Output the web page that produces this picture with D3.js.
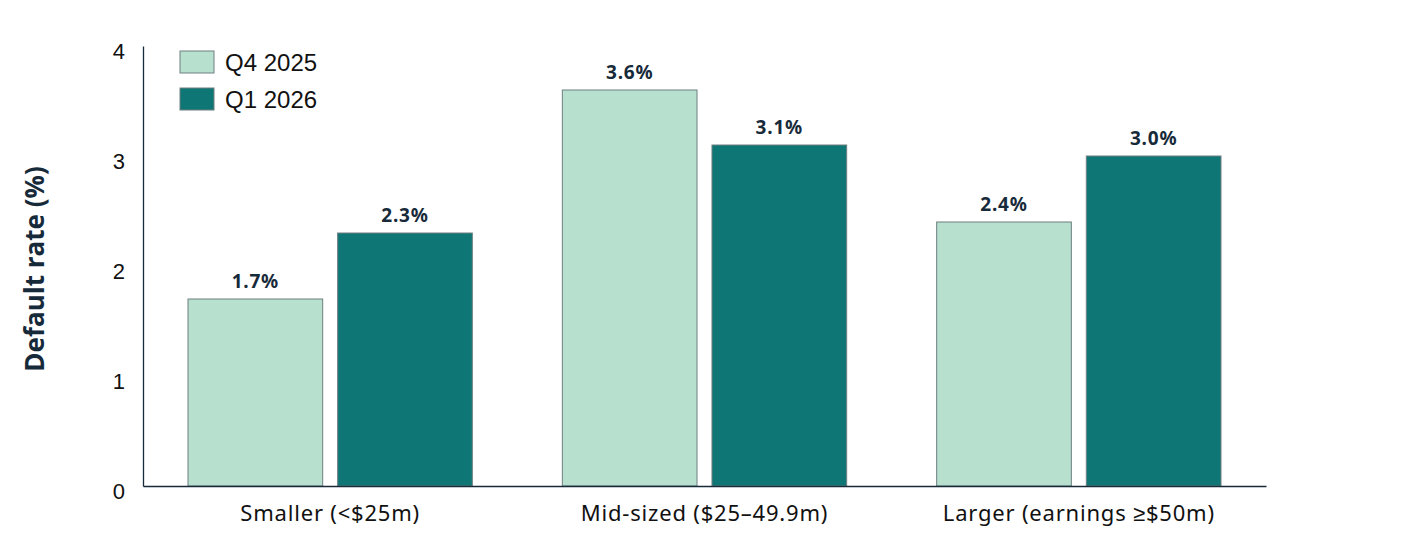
<!DOCTYPE html>
<html>
<head>
<meta charset="utf-8">
<script src="https://cdn.jsdelivr.net/npm/d3@7"></script>
<style>
  body { margin: 0; background: #fff; }
</style>
</head>
<body>
<svg id="chart" width="1420" height="536"></svg>
<script>
const categories = ["Smaller (<$25m)", "Mid-sized ($25\u201349.9m)", "Larger (earnings \u2265$50m)"];
const seriesNames = ["Q4 2025", "Q1 2026"];
const q4_2025 = [1.7, 3.6, 2.4];
const q1_2026 = [2.3, 3.1, 3.0];
const yTicks = [0, 1, 2, 3, 4];

const colors = { "Q4 2025": "#b7e0cf", "Q1 2026": "#0e7775" };
const ink = "#172a3a";

const rows = categories.map((c, i) => ({
    category: c,
    values: [
        { key: "Q4 2025", value: q4_2025[i] },
        { key: "Q1 2026", value: q1_2026[i] }
    ]
}));

const svg = d3.select("#chart");
const plotLeft = 143, plotRight = 1266, plotTop = 46, plotBottom = 486;

const x0 = d3.scaleBand().domain(categories).range([plotLeft, plotRight]).padding(0);
const x1 = d3.scaleBand().domain(seriesNames)
    .range([45, x0.bandwidth() - 45]).paddingInner(0.1);
const y = d3.scaleLinear().domain([0, 4]).range([plotBottom, plotTop]);

// bars
const groups = svg.selectAll(".group").data(rows).enter().append("g")
    .attr("class", "group")
    .attr("transform", d => "translate(" + x0(d.category) + ",0)");

groups.selectAll("rect").data(d => d.values).enter().append("rect")
    .attr("x", d => x1(d.key))
    .attr("y", d => y(d.value))
    .attr("width", x1.bandwidth())
    .attr("height", d => y(0) - y(d.value))
    .attr("fill", d => colors[d.key])
    .attr("stroke", "#6f7f80")
    .attr("stroke-width", 1);

groups.selectAll(".val").data(d => d.values).enter().append("text")
    .attr("class", "val")
    .attr("x", d => x1(d.key) + x1.bandwidth() / 2)
    .attr("y", d => y(d.value) - 11)
    .attr("text-anchor", "middle")
    .attr("font-family", "'Noto Sans', sans-serif")
    .attr("font-weight", "bold")
    .attr("font-size", 19)
    .attr("letter-spacing", 0.8)
    .attr("fill", ink)
    .text(d => d.value.toFixed(1) + "%");

// y axis
const yAxis = svg.append("g")
    .attr("transform", "translate(" + plotLeft + ",0)")
    .call(d3.axisLeft(y).tickValues(yTicks).tickSize(0).tickPadding(18).tickFormat(d3.format("d")));
yAxis.select(".domain").attr("stroke", ink).attr("stroke-width", 1.3);
yAxis.selectAll("text")
    .attr("font-family", "'Liberation Sans', Arial, sans-serif")
    .attr("font-size", 22)
    .attr("fill", "#111")
    .attr("dy", "0.55em");

// x axis
const xAxis = svg.append("g")
    .attr("transform", "translate(0," + plotBottom + ")")
    .call(d3.axisBottom(x0).tickSize(0).tickPadding(19));
xAxis.select(".domain").attr("stroke", ink).attr("stroke-width", 1.3);
xAxis.selectAll("text")
    .attr("font-family", "'Noto Sans', sans-serif")
    .attr("font-size", 22)
    .attr("letter-spacing", 0.8)
    .attr("fill", "#111");

// y label
svg.append("text")
    .attr("transform", "translate(44,269) rotate(-90)")
    .attr("text-anchor", "middle")
    .attr("font-family", "'Open Sans', sans-serif")
    .attr("font-weight", "bold")
    .attr("font-size", 26)
    .attr("fill", ink)
    .text("Default rate (%)");

// legend
const legend = svg.selectAll(".legend").data(seriesNames).enter().append("g")
    .attr("class", "legend")
    .attr("transform", (d, i) => "translate(180," + (51 + i * 37) + ")");
legend.append("rect")
    .attr("width", 34).attr("height", 22)
    .attr("fill", d => colors[d])
    .attr("stroke", "#6f7f80");
legend.append("text")
    .attr("x", 45).attr("y", 20)
    .attr("font-family", "'Liberation Sans', Arial, sans-serif")
    .attr("font-size", 24)
    .attr("fill", "#111")
    .text(d => d);
</script>
</body>
</html>
